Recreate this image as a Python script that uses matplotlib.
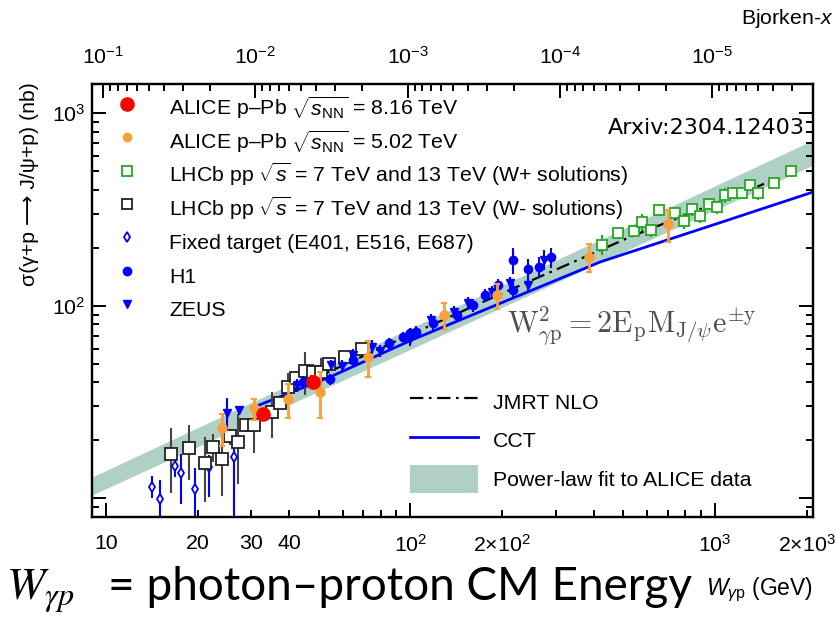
import numpy as np
import matplotlib
matplotlib.use('Agg')
import matplotlib.pyplot as plt
from matplotlib.lines import Line2D
from matplotlib.patches import Patch
from matplotlib.ticker import LogLocator, NullFormatter, FixedLocator, FixedFormatter

plt.rcParams['font.family'] = ['Liberation Sans', 'DejaVu Sans']
plt.rcParams['mathtext.fontset'] = 'custom'
plt.rcParams['mathtext.rm'] = 'Liberation Sans'
plt.rcParams['mathtext.it'] = 'Liberation Sans:italic'
plt.rcParams['mathtext.bf'] = 'Liberation Sans:bold'

M_JPSI = 3.097  # GeV, for the Bjorken-x axis

# ── Data ─────────────────────────────────────────────────
alice8_w = [32.7, 47.7]
alice8_sig = [27.3, 40.3]
alice8_err = [1.8, 3.0]

alice5_w = [24.1, 30.7, 39.5, 50.5, 72.8, 129, 192, 387, 701]
alice5_sig = [23.1, 29.3, 32.7, 35.7, 54.0, 89.5, 113.6, 180, 266]
alice5_err = [4.4, 3.7, 6.5, 9.6, 11.3, 14.3, 17.0, 30.6, 50.5]

lhcbp_w = [426, 479, 541, 576, 616, 657, 741, 789, 841, 896, 953, 1015,
           1077, 1151, 1227, 1307, 1385, 1560, 1778]
lhcbp_sig = [208, 240, 245, 273, 247, 314, 304, 277, 317, 293, 340, 325,
             376, 386, 384, 424, 384, 437, 504]
lhcbp_err = [24, 17, 18, 28, 20, 22, 22, 25, 23, 24, 24, 25,
             32, 26, 27, 30, 28, 30, 36]

lhcbm_w = [16.4, 18.7, 21.1, 22.4, 24.0, 25.5, 27.2, 28.8, 30.7, 35.1,
           37.2, 39.5, 42.1, 44.9, 47.8, 50.8, 54.0, 61.0, 69.2]
lhcbm_sig = [16.9, 18.3, 15.2, 18.5, 16.1, 21.0, 19.6, 24.1, 24.1, 28.1,
             31.3, 37.7, 42.0, 46.0, 45.1, 45.5, 50.1, 54.3, 59.6]
lhcbm_err = [6.2, 5.8, 5.6, 3.0, 5.8, 2.0, 7.7, 2.0, 7.0, 7.6,
             2.0, 7.0, 2.5, 11.5, 5.0, 8.0, 3.0, 3.0, 4.0]

ft_w = [14.2, 15.1, 16.8, 17.6, 19.6, 21.8, 26.4]
ft_sig = [11.5, 9.9, 14.7, 13.5, 11.2, 14.6, 16.4]
ft_err_lo = [1.5, 2.6, 1.8, 4.1, 3.2, 4.4, 9.0]
ft_err_hi = [1.6, 2.5, 2.1, 3.4, 3.1, 2.2, 3.2]

h1_w = [44.5, 54.6, 65.0, 85.0, 94.5, 99.8, 104, 118.6, 142, 161, 176,
        194.5, 217, 217, 243, 265, 290]
h1_sig = [40.0, 41.5, 52.3, 64.0, 69.0, 71.9, 73.3, 81.0, 89.5, 100.8, 113.6,
          128, 120.7, 173, 156, 160, 178.6]
h1_err = [3, 2.5, 3.5, 4, 4.5, 5, 5, 6, 7, 8, 9, 10, 12, 27, 20, 20, 22]

zeus_w = [24.9, 27.4, 42.4, 54.7, 59.6, 65.0, 74.6, 79.5, 99.8, 117, 139,
          155, 185, 213, 244, 274]
zeus_sig = [27.8, 28.7, 38.7, 49.5, 48.7, 55.5, 61.2, 58.5, 67.0, 84.3, 93.0,
            103, 118, 131, 128, 174]
zeus_err = [5.3, 1.5, 3, 3, 3.5, 4, 5, 4, 5, 6, 7, 8, 9, 10, 12, 20]

jmrt_w = [39, 55, 100, 200, 527, 1450]
jmrt_sig = [35, 46, 71, 116, 228, 430]

cct_w = [31, 55, 100, 200, 420, 1000, 2100]
cct_sig = [30, 43, 66, 104, 169, 265, 390]

# power-law fit band (straight on log-log)
band_w = [9.0, 2100]
band_lo = [10.4, 538]
band_hi = [12.9, 726]

# ── Style ────────────────────────────────────────────────
RED = '#ff0000'
ORANGE = '#f9a03c'
GREEN = '#22aa22'
BLUE = '#0000ff'
GREY = '#444444'
BAND = '#b0d0c6'
FS = 15.3
DASHDOT = (0, (6, 2.5, 1.2, 2.5))

fig = plt.figure(figsize=(8.36, 6.18), dpi=100)
ax = fig.add_axes([92 / 836, 1 - 517 / 618, (813 - 92) / 836, (517 - 84) / 618])
ax.set_xscale('log')
ax.set_yscale('log')
ax.set_xlim(9.0, 2100)
ax.set_ylim(8.0, 1420)

ax.fill_between(band_w, band_lo, band_hi, color=BAND, lw=0, zorder=1)
ax.plot(jmrt_w, jmrt_sig, color='black', lw=1.6, ls=DASHDOT, zorder=3)
ax.plot(cct_w, cct_sig, color=BLUE, lw=2, zorder=3)

eb = dict(ls='none', capsize=0, elinewidth=1.5)
ax.errorbar(ft_w, ft_sig, yerr=[ft_err_lo, ft_err_hi], fmt='d', ms=5.5, mfc='white',
            mec=BLUE, mew=1.3, color=BLUE, zorder=4, **eb)
ax.errorbar(lhcbm_w, lhcbm_sig, yerr=lhcbm_err, fmt='s', ms=8, mfc='white',
            mec='#222222', mew=1.3, ecolor=GREY, zorder=4, **eb)
ax.errorbar(lhcbp_w, lhcbp_sig, yerr=lhcbp_err, fmt='s', ms=7, mfc='white',
            mec=GREEN, mew=1.3, ecolor=GREEN, zorder=4, **eb)
ax.errorbar(zeus_w, zeus_sig, yerr=zeus_err, fmt='v', ms=6, color=BLUE, zorder=5, **eb)
ax.errorbar(h1_w, h1_sig, yerr=h1_err, fmt='o', ms=6, color=BLUE, zorder=5, **eb)
ax.errorbar(alice5_w, alice5_sig, yerr=alice5_err, fmt='o', ms=6.5, color=ORANGE,
            ls='none', elinewidth=2, capsize=2, capthick=1.5, zorder=6)
ax.errorbar(alice8_w, alice8_sig, yerr=alice8_err, fmt='o', ms=9.5, color=RED,
            ls='none', elinewidth=2, capsize=2, capthick=1.5, zorder=7)

# axis frame and ticks
for s in ax.spines.values():
    s.set_linewidth(1.6)
ax.tick_params(which='both', direction='in', width=1.4, labelsize=FS,
               top=False, right=True)
ax.tick_params(which='major', length=10)
ax.tick_params(which='minor', length=5)
ax.tick_params(axis='x', which='both', pad=12)
ax.tick_params(axis='y', which='both', pad=5)

ax.xaxis.set_major_locator(FixedLocator([10, 100, 1000]))
ax.xaxis.set_major_formatter(FixedFormatter(['10', r'$10^2$', r'$10^3$']))
minor_x = [20, 30, 40, 50, 60, 70, 80, 90, 200, 300, 400, 500, 600, 700, 800, 900, 2000]
minor_lab = ['20', '30', '40', '', '', '', '', '', r'$2{\times}10^2$', '', '', '', '', '', '', '',
             r'$2{\times}10^3$']
ax.xaxis.set_minor_locator(FixedLocator(minor_x))
ax.xaxis.set_minor_formatter(FixedFormatter(minor_lab))
ax.yaxis.set_major_locator(FixedLocator([10, 100, 1000]))
ax.yaxis.set_major_formatter(FixedFormatter(['', r'$10^2$', r'$10^3$']))
ax.yaxis.set_minor_locator(LogLocator(base=10, subs=np.arange(2, 10)))
ax.yaxis.set_minor_formatter(NullFormatter())

# Bjorken-x on top
ax2 = ax.twiny()
ax2.set_xscale('log')
ax2.set_xlim((M_JPSI / 9.0) ** 2, (M_JPSI / 2100) ** 2)
ax2.xaxis.set_major_locator(LogLocator(base=10))
ax2.xaxis.set_minor_locator(LogLocator(base=10, subs=np.arange(2, 10)))
ax2.xaxis.set_minor_formatter(NullFormatter())
ax2.tick_params(which='both', direction='in', width=1.4, labelsize=FS, pad=12)
ax2.tick_params(which='major', length=10)
ax2.tick_params(which='minor', length=5)
for s in ax2.spines.values():
    s.set_linewidth(1.6)

# legends
h_data = [
    Line2D([], [], ls='none', marker='o', ms=9.5, color=RED),
    Line2D([], [], ls='none', marker='o', ms=6, color=ORANGE),
    Line2D([], [], ls='none', marker='s', ms=7, mfc='white', mec=GREEN, mew=1.3),
    Line2D([], [], ls='none', marker='s', ms=7, mfc='white', mec='#222222', mew=1.3),
    Line2D([], [], ls='none', marker='d', ms=5, mfc='white', mec=BLUE, mew=1.3),
    Line2D([], [], ls='none', marker='o', ms=6, color=BLUE),
    Line2D([], [], ls='none', marker='v', ms=6, color=BLUE),
]
l_data = [
    r'ALICE p–Pb $\sqrt{s_{\mathrm{NN}}}$ = 8.16 TeV',
    r'ALICE p–Pb $\sqrt{s_{\mathrm{NN}}}$ = 5.02 TeV',
    r'LHCb pp $\sqrt{s}$ = 7 TeV and 13 TeV (W+ solutions)',
    r'LHCb pp $\sqrt{s}$ = 7 TeV and 13 TeV (W- solutions)',
    'Fixed target (E401, E516, E687)',
    'H1',
    'ZEUS',
]
# tall handle boxes keep every row the same height
leg1 = ax.legend(h_data, l_data, loc='upper left', bbox_to_anchor=(116 / 836, 1 - 92 / 618),
                 bbox_transform=fig.transFigure, frameon=False, fontsize=FS,
                 borderpad=0, borderaxespad=0, handlelength=1.0, handletextpad=1.5,
                 handleheight=2.0, labelspacing=0.03)
ax.add_artist(leg1)

h_th = [
    Line2D([], [], color='black', lw=1.6, ls=DASHDOT),
    Line2D([], [], color=BLUE, lw=2),
    Patch(facecolor=BAND, edgecolor='none'),
]
l_th = ['JMRT NLO', 'CCT', 'Power-law fit to ALICE data']
ax.legend(h_th, l_th, loc='upper left', bbox_to_anchor=(410 / 836, 1 - 388 / 618),
          bbox_transform=fig.transFigure, frameon=False, fontsize=FS,
          borderpad=0, borderaxespad=0, handlelength=3.2, handleheight=1.65,
          handletextpad=0.7, labelspacing=0.49)

# texts
fig.text(30 / 836, 1 - 82 / 618, 'σ(γ+p ⟶ J/ψ+p) (nb)', rotation=90, ha='center',
         va='top', fontsize=FS)
fig.text(833 / 836, 1 - 18 / 618, 'Bjorken-$x$', ha='right', va='center', fontsize=FS)
fig.text(805 / 836, 1 - 128 / 618, 'Arxiv:2304.12403', ha='right', va='center',
         family='DejaVu Sans', fontsize=16)
fig.text(507 / 836, 1 - 334 / 618,
         r'$\mathrm{W}_{\gamma\mathrm{p}}^{2} = 2\mathrm{E}_{\mathrm{p}}\mathrm{M}_{\mathrm{J}/\psi}\mathrm{e}^{\pm\mathrm{y}}$',
         math_fontfamily='cm', fontsize=21.5, color='#4d4d4d', va='baseline')
fig.text(813 / 836, 1 - 590 / 618, r'$W_{\gamma\mathrm{p}}$ (GeV)', ha='right', va='center',
         fontsize=16.5)
fig.text(6 / 836, 1 - 600 / 618, r'$W_{\gamma p}$', math_fontfamily='stix', fontsize=33,
         va='baseline')
fig.text(108 / 836, 1 - 600 / 618, '= photon–proton CM Energy', family='Lato',
         fontsize=33, va='baseline')

fig.savefig('out.png', dpi=100)
